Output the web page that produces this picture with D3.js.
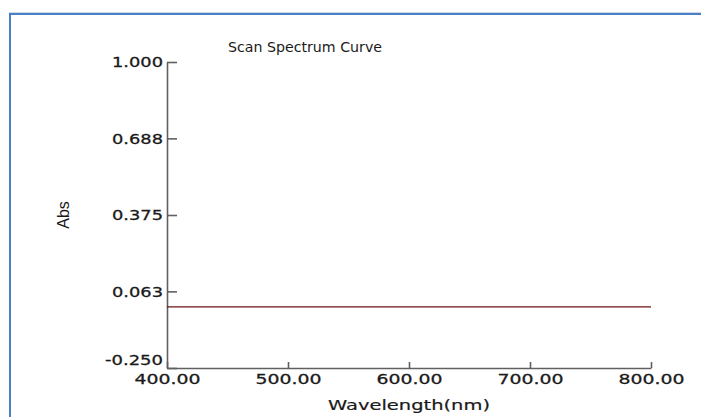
<!DOCTYPE html>
<html><head><meta charset="utf-8">
<script src="https://cdn.jsdelivr.net/npm/d3@7/dist/d3.min.js"></script>
<style>body{margin:0;background:#fff;} svg{display:block;}</style>
</head><body>
<svg id="c" width="701" height="417"></svg>
<script>
const wavelengths = [400, 450, 500, 550, 600, 650, 700, 750, 800];
const absValues   = [0.000, 0.000, 0.000, 0.000, 0.000, 0.000, 0.000, 0.000, 0.000];
const yTicks = [-0.250, 0.063, 0.375, 0.688, 1.000];
const xTicks = [400, 500, 600, 700, 800];
const title = "Scan Spectrum Curve";
const xTitle = "Wavelength(nm)";
const yTitle = "Abs";

const svg = d3.select("#c");
// frame
svg.append("line").attr("x1",9).attr("x2",701).attr("y1",12.5).attr("y2",12.5).attr("stroke","#cdd8e6").attr("stroke-width",1);
svg.append("line").attr("x1",9).attr("x2",701).attr("y1",14).attr("y2",14).attr("stroke","#4a80c4").attr("stroke-width",2);
svg.append("line").attr("x1",10).attr("x2",10).attr("y1",13).attr("y2",417).attr("stroke","#4a80c4").attr("stroke-width",2);

const x = d3.scaleLinear().domain([400,800]).range([167,651]);
const y = d3.scaleLinear().domain([-0.25,1.0]).range([368,62]);
const font = "DejaVu Sans, Verdana, sans-serif";
const fmtY = d => d.toFixed(3);
const fmtX = d => d.toFixed(2);

const ya = svg.append("g").attr("transform","translate(167,0)")
  .call(d3.axisLeft(y).tickValues(yTicks).tickFormat(fmtY).tickSizeInner(-10).tickSizeOuter(0).tickPadding(4));
const xa = svg.append("g").attr("transform","translate(0,368)")
  .call(d3.axisBottom(x).tickValues(xTicks).tickFormat(fmtX).tickSizeInner(-6).tickSizeOuter(0).tickPadding(4));
[ya, xa].forEach(g=>{
  g.selectAll("path,line").attr("stroke","#606060").attr("stroke-width",1.6);
  g.selectAll("text").attr("fill","#1a1a1a").attr("font-family",font).attr("font-size",14.5)
    .attr("stroke","#1a1a1a").attr("stroke-width",0.3)
    .attr("lengthAdjust","spacingAndGlyphs");
});
ya.selectAll("text").attr("textLength",51).attr("x",-4);
ya.selectAll("text").filter(d=>d<0).attr("textLength",58).attr("y",-8);
xa.selectAll("text").attr("textLength",66).attr("dy","0.72em").attr("y",6);

// line
const line = d3.line().x((d,i)=>x(wavelengths[i])).y(d=>y(d));
svg.append("path").datum(absValues).attr("d",line).attr("fill","none")
  .attr("stroke","#6a1212").attr("stroke-width",1.3);

// titles
svg.append("text").attr("x",305).attr("y",52).attr("text-anchor","middle")
  .attr("font-family",font).attr("font-size",14.5).attr("fill","#1a1a1a")
  .attr("textLength",154).attr("lengthAdjust","spacingAndGlyphs").text(title);
svg.append("text").attr("x",409).attr("y",410).attr("text-anchor","middle")
  .attr("font-family",font).attr("font-size",14.5).attr("fill","#1a1a1a")
  .attr("stroke","#1a1a1a").attr("stroke-width",0.2)
  .attr("textLength",162).attr("lengthAdjust","spacingAndGlyphs").text(xTitle);
svg.append("text").attr("transform","translate(69,215) rotate(-90)").attr("text-anchor","middle")
  .attr("font-family","Liberation Sans Narrow, Arial Narrow, sans-serif").attr("font-size",16).attr("fill","#1a1a1a")
  .text(yTitle);
</script>
</body></html>
